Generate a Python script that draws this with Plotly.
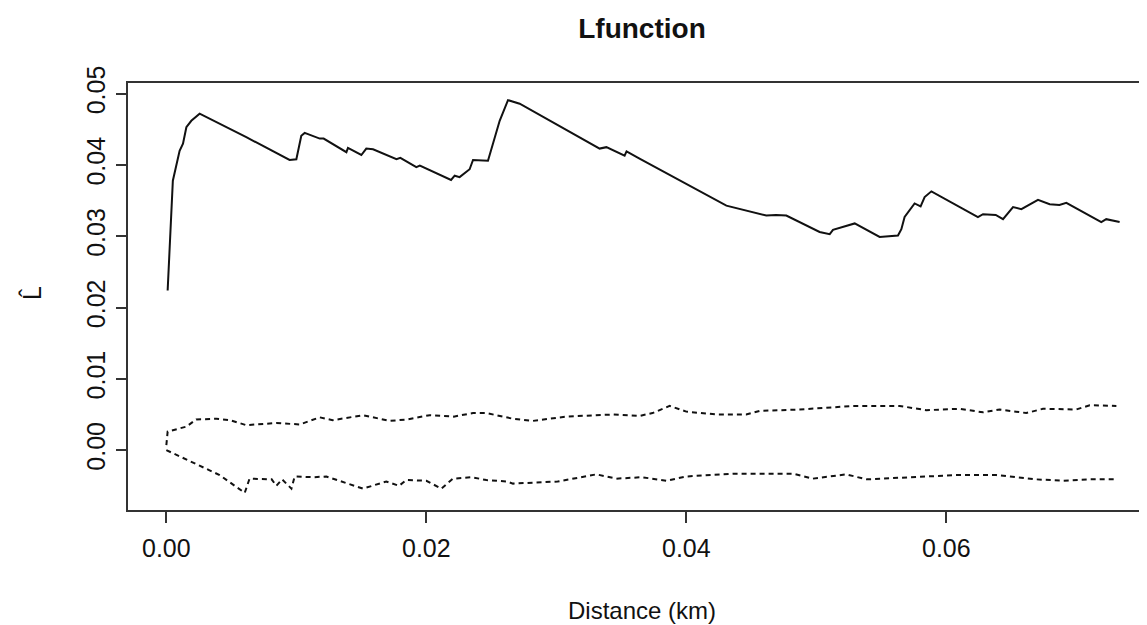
import plotly.graph_objects as go

# Observed L-function (solid)
obs_x = [0.0001, 0.0005, 0.00102, 0.00128, 0.00154, 0.00192, 0.00256, 0.00615, 0.00948, 0.0100,
         0.01038, 0.01064, 0.0118, 0.0121, 0.01385, 0.01397, 0.0150, 0.01538, 0.0159, 0.0177,
         0.0180, 0.01923, 0.0195, 0.0219, 0.02218, 0.02256, 0.02333, 0.02359, 0.02474, 0.02513,
         0.02564, 0.02628, 0.02718, 0.03333, 0.03385, 0.03525, 0.0354, 0.0364, 0.04256, 0.04308,
         0.04615, 0.0469, 0.04769, 0.05025, 0.05103, 0.05128, 0.05295, 0.05487, 0.05628, 0.05654,
         0.05679, 0.05756, 0.05802, 0.05833, 0.05885, 0.06243, 0.06282, 0.0638, 0.06436, 0.06513,
         0.06577, 0.06705, 0.06795, 0.0687, 0.06923, 0.07192, 0.0723, 0.07333]
obs_y = [0.0224, 0.0378, 0.0420, 0.0430, 0.0453, 0.0462, 0.0472, 0.0439, 0.0407, 0.0408,
         0.0441, 0.0445, 0.0437, 0.0437, 0.0418, 0.0424, 0.0414, 0.0423, 0.0422, 0.0408,
         0.0410, 0.0397, 0.0399, 0.0379, 0.0385, 0.0383, 0.0394, 0.0407, 0.0406, 0.0430,
         0.0462, 0.0491, 0.0486, 0.0423, 0.0425, 0.0413, 0.0419, 0.0409, 0.0348, 0.0343,
         0.0329, 0.0330, 0.0329, 0.0306, 0.0303, 0.0309, 0.0318, 0.0299, 0.0301, 0.0310,
         0.0327, 0.0346, 0.0342, 0.0355, 0.0363, 0.0327, 0.0331, 0.0330, 0.0324, 0.0341,
         0.0338, 0.0351, 0.0345, 0.0344, 0.0347, 0.0320, 0.0324, 0.0320]

# Upper envelope (dashed)
hi_x = [0.0, 0.0001, 0.00154, 0.0023, 0.00385, 0.0049, 0.00615, 0.0072, 0.00846, 0.01026,
        0.0118, 0.0128, 0.01436, 0.01513, 0.01718, 0.0185, 0.02026, 0.0221, 0.02359, 0.0246,
        0.02667, 0.0282, 0.03077, 0.03436, 0.03641, 0.0374, 0.03872, 0.0400, 0.04231, 0.0446,
        0.04564, 0.04872, 0.05128, 0.05282, 0.05641, 0.05846, 0.06103, 0.06282, 0.0641, 0.06615,
        0.06743, 0.0700, 0.07103, 0.07308]
hi_y = [0.0007, 0.0026, 0.0033, 0.0043, 0.0044, 0.0042, 0.0035, 0.0036, 0.0038, 0.0036,
        0.0046, 0.0042, 0.0047, 0.0049, 0.0041, 0.0043, 0.0049, 0.0047, 0.0052, 0.0052,
        0.0044, 0.0041, 0.0047, 0.0050, 0.0048, 0.0052, 0.0062, 0.0054, 0.0050, 0.0050,
        0.0055, 0.0057, 0.0060, 0.0062, 0.0062, 0.0056, 0.0058, 0.0053, 0.0057, 0.0052,
        0.0058, 0.0057, 0.0063, 0.0062]

# Lower envelope (dashed)
lo_x = [0.0, 0.0023, 0.0041, 0.00603, 0.0064, 0.0081, 0.00846, 0.0089, 0.00962, 0.00987,
        0.0113, 0.0123, 0.01513, 0.01692, 0.0179, 0.01846, 0.0200, 0.02115, 0.02205, 0.0235,
        0.02462, 0.0262, 0.02667, 0.0301, 0.03308, 0.03462, 0.0366, 0.03846, 0.0400, 0.04359,
        0.0482, 0.04974, 0.05231, 0.05385, 0.0582, 0.06077, 0.06385, 0.06692, 0.06897, 0.0710,
        0.07308]
lo_y = [0.0, -0.0019, -0.0035, -0.0060, -0.0040, -0.0041, -0.0050, -0.0041, -0.0054, -0.0037,
        -0.0038, -0.0037, -0.0054, -0.0044, -0.0050, -0.0042, -0.0043, -0.0054, -0.0040, -0.0038,
        -0.0042, -0.0044, -0.0047, -0.0044, -0.0034, -0.0040, -0.0038, -0.0043, -0.0037, -0.0033,
        -0.0033, -0.0040, -0.0034, -0.0041, -0.0037, -0.0035, -0.0035, -0.0041, -0.0043, -0.0041,
        -0.0041]

x_ticks = [0.00, 0.02, 0.04, 0.06]
x_tick_labels = ["0.00", "0.02", "0.04", "0.06"]
y_ticks = [0.00, 0.01, 0.02, 0.03, 0.04, 0.05]
y_tick_labels = ["0.00", "0.01", "0.02", "0.03", "0.04", "0.05"]

FONT = "Liberation Sans, Arial, sans-serif"

fig = go.Figure()
fig.add_trace(go.Scatter(x=obs_x, y=obs_y, mode="lines",
                         line=dict(color="#111111", width=2), showlegend=False))
fig.add_trace(go.Scatter(x=hi_x, y=hi_y, mode="lines",
                         line=dict(color="#111111", width=2, dash="5px,4px"), showlegend=False))
fig.add_trace(go.Scatter(x=lo_x, y=lo_y, mode="lines",
                         line=dict(color="#111111", width=2, dash="5px,4px"), showlegend=False))

# page has an 8px body margin; figure coordinates = page coordinates - 8
W, H = 1131, 617
L, T, B = 120, 75, 502
fig.update_layout(
    width=W, height=H,
    paper_bgcolor="white", plot_bgcolor="white",
    margin=dict(l=L, r=0, t=T, b=H - B),
    font=dict(family=FONT, color="#111111"),
    title=dict(text="<b>Lfunction</b>", x=634 / W, xref="container", xanchor="center",
               y=1 - 20 / H, yref="container", yanchor="middle",
               font=dict(family=FONT, size=28, color="#111111")),
    xaxis=dict(range=[-0.00295, 0.07482], tickvals=x_ticks, ticktext=x_tick_labels,
               showgrid=False, zeroline=False, showline=True, mirror=True,
               linecolor="#333333", linewidth=2, ticks="outside", ticklen=11,
               tickwidth=2, tickcolor="#333333", ticklabelstandoff=4,
               tickfont=dict(family=FONT, size=25, color="#111111")),
    yaxis=dict(range=[-0.0084, 0.0515], tickvals=y_ticks, ticktext=y_tick_labels,
               showgrid=False, zeroline=False, showline=True, mirror=False,
               linecolor="#333333", linewidth=2, ticks="outside", ticklen=10,
               tickwidth=2, tickcolor="#333333", tickangle=-90, ticklabelstandoff=1,
               tickfont=dict(family=FONT, size=25, color="#111111")),
    annotations=[
        dict(text="Distance (km)", xref="paper", yref="paper",
             x=(634 - L) / (W - L), y=-(602 - B) / (B - T),
             xanchor="center", yanchor="middle", showarrow=False,
             font=dict(family=FONT, size=24, color="#111111")),
        dict(text="L\u0302", xref="paper", yref="paper",
             x=-(L - 24) / (W - L), y=(B - 285) / (B - T),
             xanchor="center", yanchor="middle", showarrow=False, textangle=-90,
             font=dict(family=FONT, size=25, color="#111111")),
    ],
)

fig.write_html("out.html")
